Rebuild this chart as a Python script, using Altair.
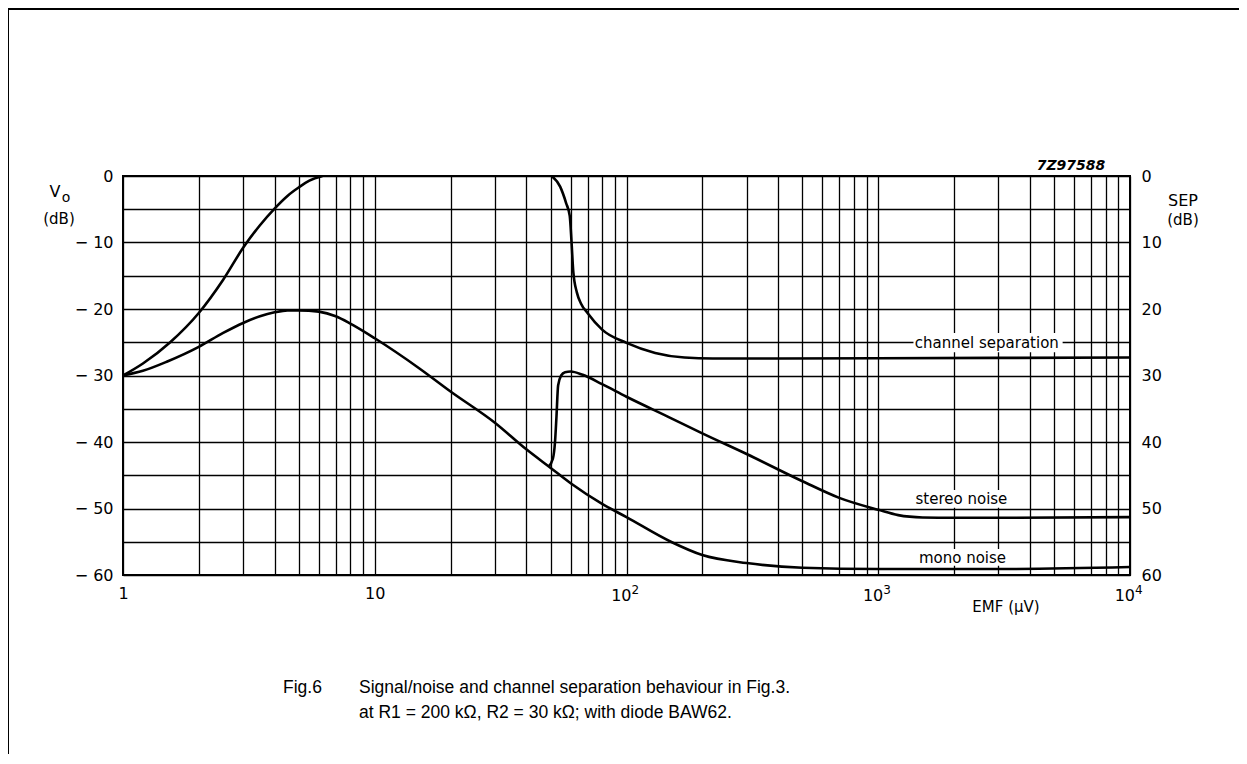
import altair as alt
import pandas as pd

# ---- data ----
sig_x = [1, 1.2, 1.54, 2, 2.5, 3, 3.5, 4, 4.5, 5, 5.5, 6.2]
sig_y = [-30, -28.2, -25, -20.6, -15.6, -10.8, -7.4, -4.9, -3.0, -1.7, -0.7, 0]

mono_x = [1, 1.2, 1.5, 2, 2.5, 3, 3.5, 4, 4.5, 5, 6, 7, 8, 10, 15, 20, 30, 40, 50, 60,
          80, 100, 150, 200, 300, 500, 1000, 3000, 10000]
mono_y = [-30, -29.3, -27.9, -25.7, -23.6, -22.1, -21.1, -20.5, -20.2, -20.2, -20.4, -21.1,
          -22.2, -24.4, -28.9, -32.4, -37.1, -41.1, -43.9, -46.2, -49.3, -51.3, -55.0,
          -57.0, -58.2, -58.9, -59.1, -59.1, -58.8]

ster_x = [49, 51, 52, 52.7, 53.5, 55, 57, 60, 67, 80, 100, 150, 200, 300, 500, 700,
          1000, 1200, 1500, 2000, 10000]
ster_y = [-43.7, -42.5, -40, -36.2, -31.5, -30, -29.5, -29.4, -29.9, -31.3, -33.2, -36.4,
          -38.7, -41.8, -45.9, -48.4, -50.2, -51.0, -51.35, -51.4, -51.3]

sep_x = [50.5, 54.5, 57.6, 59.5, 60.5, 61.5, 63.5, 66, 70, 80, 100, 130, 170, 220, 1000, 10000]
sep_db = [0, 1.6, 4.1, 6.0, 10, 14.5, 17.5, 19.2, 20.6, 23.1, 25.1, 26.6, 27.3, 27.45, 27.4, 27.3]

x_grid = [m * 10 ** k for k in range(4) for m in range(1, 10)] + [10000]
y_grid = list(range(-60, 1, 5))
sep_ticks = list(range(0, 61, 10))

pow_vals = [100, 1000, 10000]
pow_exp = ["2", "3", "4"]

labels_txt = ["channel separation", "stereo noise", "mono noise"]
labels_x = [2700, 2140, 2160]
labels_y = [-25.1, -48.6, -57.4]
box_x1 = [1380, 1337, 1337]
box_x2 = [5400, 3400, 3400]
box_y1 = [-23.6, -47.2, -56.1]
box_y2 = [-26.5, -49.9, -58.6]

FONT = "DejaVu Sans"
CAP_FONT = "Liberation Sans"

curves = pd.concat([
    pd.DataFrame({"x": sig_x, "v": sig_y, "s": "signal"}),
    pd.DataFrame({"x": mono_x, "v": mono_y, "s": "mono noise"}),
    pd.DataFrame({"x": ster_x, "v": ster_y, "s": "stereo noise"}),
])
sep_df = pd.DataFrame({"x": sep_x, "sep": sep_db})
lab_df = pd.DataFrame({"t": labels_txt, "x": labels_x, "v": labels_y})
box_df = pd.DataFrame({"x": box_x1, "x2": box_x2, "v": box_y1, "v2": box_y2})
pow_df = pd.DataFrame({"x": pow_vals, "e": pow_exp, "b": ["10"] * 3})

x_axis = alt.Axis(
    values=x_grid, grid=True, gridColor="black", gridWidth=1.3, gridOpacity=1,
    ticks=False, domain=False, title=None, labelOverlap=False, labelFlush=False,
    labelFont=FONT, labelFontSize=16, labelColor="black", labelPadding=10,
    labelExpr="datum.value == 1 ? '1' : datum.value == 10 ? '10' : ''",
)
x_scale = alt.Scale(type="log", domain=[1, 10000], nice=False)

y_axis = alt.Axis(
    values=y_grid, grid=True, gridColor="black", gridWidth=1.3, gridOpacity=1,
    ticks=False, domain=False, title=None, labelOverlap=False, labelFlush=False,
    labelFont=FONT, labelFontSize=16, labelColor="black", labelPadding=10,
    labelExpr="datum.value % 10 != 0 ? '' : datum.value == 0 ? '0' : '\u2212 ' + (-datum.value)",
)
y_scale = alt.Scale(domain=[-60, 0], nice=False, zero=False)


def X(field="x"):
    return alt.X(f"{field}:Q", scale=x_scale, axis=x_axis)


def Y(field="v"):
    return alt.Y(f"{field}:Q", scale=y_scale, axis=y_axis)


lines = alt.Chart(curves).mark_line(color="black", strokeWidth=2.6, interpolate="monotone", clip=True).encode(
    x=X(), y=Y(), detail="s:N", order="x:Q"
)

boxes = alt.Chart(box_df).mark_rect(color="white").encode(
    x=X(), x2="x2:Q", y=Y(), y2="v2:Q"
)

labels = alt.Chart(lab_df).mark_text(font=FONT, fontSize=15, color="black").encode(
    x=X(), y=Y(), text="t:N"
)

# power-of-ten tick labels (base + raised exponent)
pow_base = alt.Chart(pow_df).mark_text(font=FONT, fontSize=16, color="black", align="right", dx=5).encode(
    x=X(), y=alt.value(420), text="b:N"
)
pow_sup = alt.Chart(pow_df).mark_text(font=FONT, fontSize=12, color="black", align="left", dx=5).encode(
    x=X(), y=alt.value(414), text="e:N"
)


def ptext(txt, px, py, size=14, font=FONT, **kw):
    return alt.Chart(pd.DataFrame({"t": [txt]})).mark_text(
        font=font, fontSize=size, color="black", **kw
    ).encode(x=alt.value(px), y=alt.value(py), text="t:N")


texts = [
    ptext("V", -68, 16, 16),
    ptext("o", -57, 22, 14),
    ptext("(dB)", -64, 43, 15),
    ptext("SEP", 1060, 25, 16),
    ptext("(dB)", 1060, 44, 15),
    ptext("EMF (\u03bcV)", 883, 431, 15),
    ptext("7Z97588", 948, -10, 14, fontStyle="italic", fontWeight="bold"),
    ptext("Fig.6", 160, 512, 17.5, CAP_FONT, align="left"),
    ptext("Signal/noise and channel separation behaviour in Fig.3.", 236, 512, 17.5, CAP_FONT, align="left"),
    ptext("at R1 = 200 k\u03a9, R2 = 30 k\u03a9; with diode BAW62.", 236, 537, 17.5, CAP_FONT, align="left"),
]

frame_top = alt.Chart(pd.DataFrame({"a": [0]})).mark_rule(color="black", strokeWidth=2).encode(
    x=alt.value(-115), x2=alt.value(1116), y=alt.value(-167)
)
frame_left = alt.Chart(pd.DataFrame({"a": [0]})).mark_rule(color="black", strokeWidth=2).encode(
    x=alt.value(-115), y=alt.value(-167), y2=alt.value(578)
)

left_group = alt.layer(boxes, labels, lines, pow_base, pow_sup, *texts, frame_top, frame_left)

sep_layer = alt.Chart(sep_df).mark_line(color="black", strokeWidth=2.6, interpolate="monotone", clip=True).encode(
    x=X(),
    y=alt.Y(
        "sep:Q",
        scale=alt.Scale(domain=[0, 60], reverse=True, nice=False, zero=False),
        axis=alt.Axis(
            orient="right", values=sep_ticks, grid=False, ticks=False, domain=False, title=None,
            labelFont=FONT, labelFontSize=16, labelColor="black", labelPadding=11,
            labelOverlap=False, labelFlush=False,
        ),
    ),
    order="x:Q",
)

chart = alt.layer(left_group, sep_layer).resolve_scale(y="independent").properties(
    width=1007,
    height=399,
    autosize=alt.AutoSizeParams(type="none"),
    padding={"left": 115, "top": 168, "right": 109, "bottom": 179},
    background="white",
).configure_view(stroke="black", strokeWidth=2)

chart.save("out.html", embed_options={"renderer": "svg", "actions": False})
